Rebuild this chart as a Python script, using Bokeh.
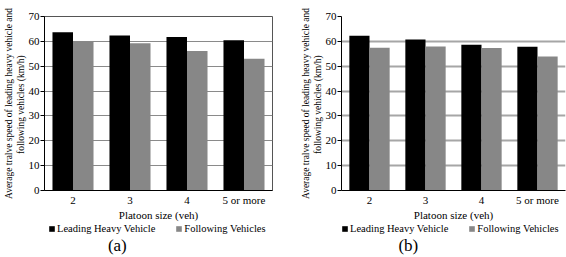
from bokeh.plotting import figure
from bokeh.layouts import row, column
from bokeh.models import ColumnDataSource, Legend, LegendItem, Label, Range1d, FactorRange
from bokeh.transform import dodge
from bokeh.embed import file_html
from bokeh.resources import INLINE

categories = ["2", "3", "4", "5 or more"]
leading_a = [63.7, 62.4, 61.8, 60.4]
following_a = [60.0, 59.2, 56.1, 53.0]
leading_b = [62.3, 60.7, 58.6, 57.8]
following_b = [57.4, 57.9, 57.3, 53.9]
y_ticks = [0, 10, 20, 30, 40, 50, 60, 70]
y_label = "Average tralve speed of leading heavy vehicle and\nfollowing vehicles  (km/h)"
x_label = "Platoon size (veh)"
series_names = ["Leading Heavy Vehicle", "Following Vehicles"]
captions = ["(a)", "(b)"]

FONT = "Liberation Serif"
BLACK = "#000000"
GRAY = "#878787"
MAIN_H = 223
LEG_H = 34


def make_panel(leading, following, caption, left, right, grid_color, grid_width,
               legend_x, caption_x, outline):
    src = ColumnDataSource(dict(cat=categories, lead=leading, foll=following))
    p = figure(x_range=FactorRange(*categories), y_range=Range1d(0, 70),
               width=283, height=MAIN_H, output_backend="svg", toolbar_location=None,
               min_border_left=left, min_border_right=right, min_border_top=16,
               min_border_bottom=0)
    p.vbar(x=dodge("cat", -0.18, range=p.x_range), top="lead", width=0.36,
           source=src, fill_color=BLACK, line_color=None)
    p.vbar(x=dodge("cat", 0.18, range=p.x_range), top="foll", width=0.36,
           source=src, fill_color=GRAY, line_color=None)
    p.x_range.range_padding = 0
    p.xgrid.grid_line_color = None
    p.ygrid.grid_line_color = grid_color
    p.ygrid.grid_line_width = grid_width
    p.ygrid.ticker = y_ticks
    p.yaxis.ticker = y_ticks
    if outline:
        p.outline_line_color = "#555555"
        p.outline_line_width = 1
    else:
        p.outline_line_color = None

    for ax in (p.xaxis[0], p.yaxis[0]):
        ax.axis_line_color = "#000000"
        ax.axis_line_width = 1
        ax.major_label_text_font = FONT
        ax.major_label_text_font_size = "11px"
        ax.major_label_text_color = "#000000"
        ax.axis_label_text_font = FONT
        ax.axis_label_text_font_style = "normal"
        ax.axis_label_text_font_size = "11px"
        ax.axis_label_text_color = "#000000"
        ax.minor_tick_line_color = None
    p.yaxis.major_tick_out = 4
    p.yaxis.major_tick_in = 0
    p.yaxis.major_tick_line_color = "#000000"
    p.yaxis.major_label_standoff = 1
    p.yaxis.axis_label = y_label
    p.yaxis.axis_label_standoff = 0
    p.yaxis.axis_label_text_font_size = "9.5px"
    p.xaxis.major_tick_out = 0
    p.xaxis.major_tick_in = 0
    p.xaxis.major_label_standoff = 3
    p.xaxis.axis_label = x_label
    p.xaxis.axis_label_standoff = 0

    # legend + caption strip below the chart (its frame is aligned with the chart's)
    q = figure(x_range=Range1d(0, 1), y_range=Range1d(0, LEG_H),
               width=283, height=LEG_H, output_backend="svg", toolbar_location=None,
               x_axis_location=None, y_axis_location=None,
               min_border=0, outline_line_color=None)
    q.xgrid.grid_line_color = None
    q.ygrid.grid_line_color = None
    k1 = q.vbar(x="lead", top="lead", width=0.36, source=src, fill_color=BLACK,
                line_color=None, visible=False)
    k2 = q.vbar(x="foll", top="foll", width=0.36, source=src, fill_color=GRAY,
                line_color=None, visible=False)
    legend = Legend(items=[LegendItem(label=series_names[0], renderers=[k1]),
                           LegendItem(label=series_names[1], renderers=[k2])],
                    orientation="horizontal", location=(legend_x, LEG_H - 11),
                    label_text_font=FONT, label_text_font_size="10.5px",
                    label_text_color="#000000",
                    glyph_width=7, glyph_height=7, label_standoff=2, spacing=20,
                    label_height=11, padding=0, margin=0, border_line_color=None,
                    background_fill_alpha=0, inactive_fill_alpha=0)
    q.add_layout(legend, "center")
    cap = Label(x=caption_x, y=3, text=caption, text_font=FONT, text_font_size="17px",
                text_color="#000000", text_baseline="bottom", text_align="left")
    q.add_layout(cap)
    return column(p, q, spacing=0)


pa = make_panel(leading_a, following_a, captions[0], 42, 11, "#8a8a8a", 1, 4, 0.278, True)
pb = make_panel(leading_b, following_b, captions[1], 58, 1, "#a6a6a6", 2, 0, 0.254, False)

layout = row(pa, pb, spacing=0)
open("out.html", "w").write(file_html(layout, INLINE))
